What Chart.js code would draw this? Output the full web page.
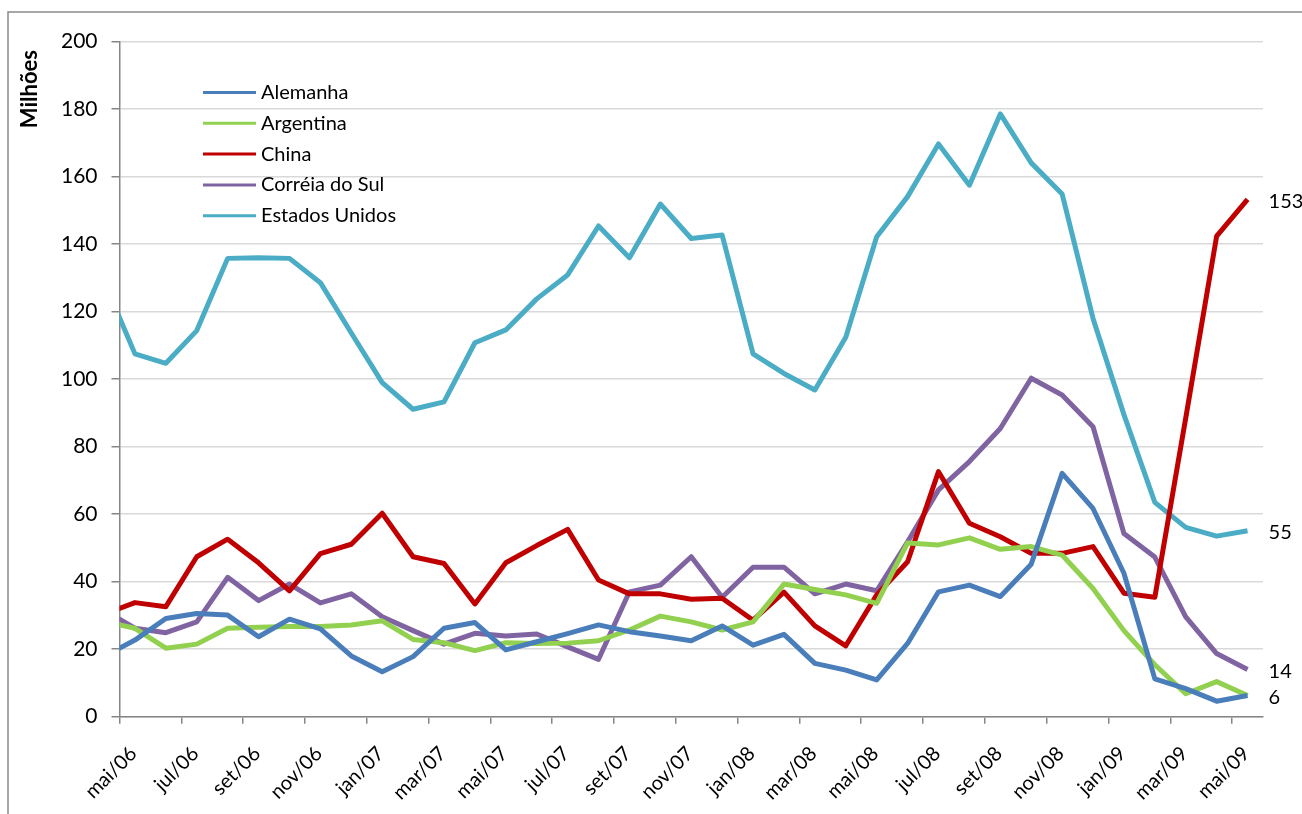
<!DOCTYPE html>
<html lang="pt">
<head>
<meta charset="UTF-8">
<title>Milhões por país</title>
<script src="https://cdn.jsdelivr.net/npm/chart.js"></script>
<style>
  html, body { margin: 0; padding: 0; background: #fff; }
  #wrap { width: 1302px; height: 814px; }
</style>
</head>
<body>
<div id="wrap"><canvas id="grafico"></canvas></div>
<script>
// meses (abr/06 fica fora do eixo, só serve para a linha entrar cortada na borda)
const meses = ['abr/06',
  'mai/06','jun/06','jul/06','ago/06','set/06','out/06','nov/06','dez/06',
  'jan/07','fev/07','mar/07','abr/07','mai/07','jun/07','jul/07','ago/07','set/07','out/07','nov/07','dez/07',
  'jan/08','fev/08','mar/08','abr/08','mai/08','jun/08','jul/08','ago/08','set/08','out/08','nov/08','dez/08',
  'jan/09','fev/09','mar/09','abr/09','mai/09'];

// rótulos do eixo x (de dois em dois meses)
const rotulosEixo = ['mai/06','jul/06','set/06','nov/06','jan/07','mar/07','mai/07','jul/07','set/07',
  'nov/07','jan/08','mar/08','mai/08','jul/08','set/08','nov/08','jan/09','mar/09','mai/09'];

const alemanha = [17.9,
  22.7, 29.1, 30.6, 30.1, 23.7, 28.9, 26.0, 18.0,
  13.3, 17.8, 26.2, 27.9, 19.8, 22.2, 24.6, 27.2, 25.2, 23.9, 22.5, 26.9,
  21.2, 24.4, 15.8, 13.8, 10.9, 21.7, 37.0, 39.0, 35.6, 45.2, 72.1, 61.7,
  42.5, 11.2, 8.3, 4.6, 6.3];

const argentina = [28.2,
  26.2, 20.3, 21.5, 26.2, 26.5, 26.7, 26.7, 27.2,
  28.4, 22.9, 21.9, 19.6, 21.9, 21.7, 21.8, 22.5, 25.7, 29.8, 28.1, 25.7,
  28.1, 39.3, 37.7, 36.1, 33.6, 51.5, 50.9, 53.0, 49.6, 50.4, 47.9, 38.0,
  25.5, 15.4, 6.8, 10.4, 6.3];

const china = [30.4,
  33.8, 32.6, 47.4, 52.6, 45.6, 37.3, 48.3, 51.1,
  60.3, 47.4, 45.4, 33.4, 45.6, 50.7, 55.5, 40.5, 36.4, 36.4, 34.8, 35.1,
  28.6, 36.9, 26.9, 21.0, 36.1, 45.9, 72.6, 57.3, 53.3, 48.4, 48.4, 50.4,
  36.6, 35.4, 88.5, 142.4, 153.3];

const coreia = [31.6,
  26.2, 24.9, 28.1, 41.3, 34.4, 39.3, 33.7, 36.4,
  29.6, 25.5, 21.5, 24.7, 23.9, 24.5, 20.7, 17.0, 37.0, 39.0, 47.4, 35.4,
  44.3, 44.3, 36.4, 39.3, 37.3, 51.8, 67.2, 75.6, 85.4, 100.3, 95.3, 85.9,
  54.3, 47.3, 29.6, 18.7, 14.0];

const eua = [129.0,
  107.5, 104.7, 114.4, 135.8, 136.0, 135.8, 128.6, 113.7,
  99.0, 91.1, 93.3, 110.8, 114.6, 123.8, 130.9, 145.4, 136.0, 151.9, 141.7, 142.7,
  107.5, 101.7, 96.8, 112.4, 142.2, 154.1, 169.7, 157.5, 178.6, 164.1, 154.9, 118.0,
  89.5, 63.5, 56.1, 53.5, 55.1];

const FONTE = 'Lato, Carlito, Calibri, sans-serif';
Chart.defaults.font.family = FONTE;
Chart.defaults.color = '#000';

// cada mês fica no meio do seu intervalo no eixo
function pontos(serie) {
  return serie.map((v, i) => ({ x: i - 0.5, y: v }));
}

function serie(nome, valores, cor, rotulo) {
  return {
    label: nome,
    data: pontos(valores),
    borderColor: cor,
    backgroundColor: cor,
    borderWidth: 5,
    pointRadius: 0,
    tension: 0,
    borderJoinStyle: 'round',
    clip: { left: 0, top: 6, right: 10, bottom: 6 },
    rotuloFinal: rotulo
  };
}

// moldura cinza e título do eixo y
const moldura = {
  id: 'moldura',
  beforeDraw(chart) {
    const ctx = chart.ctx;
    ctx.save();
    ctx.strokeStyle = '#8a8a8a';
    ctx.lineWidth = 1.5;
    ctx.beginPath();
    ctx.moveTo(8, 814);
    ctx.lineTo(8, 12);
    ctx.lineTo(1302, 12);
    ctx.stroke();
    // título do eixo, perto do topo
    ctx.translate(30, 50);
    ctx.rotate(-Math.PI / 2);
    ctx.font = 'bold 22px ' + FONTE;
    ctx.fillStyle = '#000';
    ctx.textAlign = 'right';
    ctx.textBaseline = 'middle';
    ctx.fillText('Milhões', 0, 0);
    ctx.restore();
  }
};

// legenda dentro da área do gráfico
const legendaInterna = {
  id: 'legendaInterna',
  afterDraw(chart) {
    const ctx = chart.ctx;
    const area = chart.chartArea;
    const x0 = area.left + 83.5;
    ctx.save();
    ctx.font = '20px ' + FONTE;
    ctx.textBaseline = 'middle';
    chart.data.datasets.forEach((ds, i) => {
      const y = 92.5 + i * 30.8;
      ctx.strokeStyle = ds.borderColor;
      ctx.lineWidth = 3;
      ctx.beginPath();
      ctx.moveTo(x0, y);
      ctx.lineTo(x0 + 53, y);
      ctx.stroke();
      ctx.fillStyle = '#000';
      ctx.fillText(ds.label, x0 + 58, y);
    });
    ctx.restore();
  }
};

// valor do último mês à direita da linha
const rotuloFinal = {
  id: 'rotuloFinal',
  afterDatasetsDraw(chart) {
    const ctx = chart.ctx;
    ctx.save();
    ctx.font = '20px ' + FONTE;
    ctx.fillStyle = '#000';
    ctx.textBaseline = 'middle';
    chart.data.datasets.forEach((ds, i) => {
      if (!ds.rotuloFinal) return;
      const meta = chart.getDatasetMeta(i);
      const p = meta.data[meta.data.length - 1];
      const v = ds.data[ds.data.length - 1].y;
      ctx.fillText(String(Math.round(v)), p.x + 21, p.y + 2);
    });
    ctx.restore();
  }
};

new Chart(document.getElementById('grafico'), {
  type: 'line',
  data: {
    datasets: [
      serie('Alemanha', alemanha, '#4a7ebb', false),
      serie('Argentina', argentina, '#92d050', true),
      serie('China', china, '#c00000', true),
      serie('Corréia do Sul', coreia, '#8064a2', true),
      serie('Estados Unidos', eua, '#4bacc6', true)
    ]
  },
  options: {
    responsive: true,
    maintainAspectRatio: false,
    animation: false,
    layout: { padding: { left: 10, top: 41.7, right: 39, bottom: 0 } },
    plugins: {
      legend: { display: false },
      tooltip: { enabled: false }
    },
    scales: {
      x: {
        type: 'linear',
        min: 0,
        max: 37,
        afterFit(scale) { scale.height = 97.3; },
        border: { color: '#868686', width: 1.5 },
        grid: { drawOnChartArea: false, drawTicks: true, tickLength: 7, color: '#868686', lineWidth: 1.5 },
        ticks: {
          stepSize: 2,
          includeBounds: false,
          autoSkip: false,
          minRotation: 45,
          maxRotation: 45,
          padding: 18,
          labelOffset: 14,
          font: { size: 20 },
          callback: (v) => rotulosEixo[v / 2]
        }
      },
      y: {
        min: 0,
        max: 200,
        afterFit(scale) { scale.width = 109.5; },
        border: { color: '#868686', width: 1.5 },
        grid: { color: '#d9d9d9', lineWidth: 1.5, tickLength: 8, tickColor: '#868686' },
        ticks: { stepSize: 20, padding: 14, font: { size: 21 } }
      }
    }
  },
  plugins: [moldura, legendaInterna, rotuloFinal]
});
</script>
</body>
</html>
